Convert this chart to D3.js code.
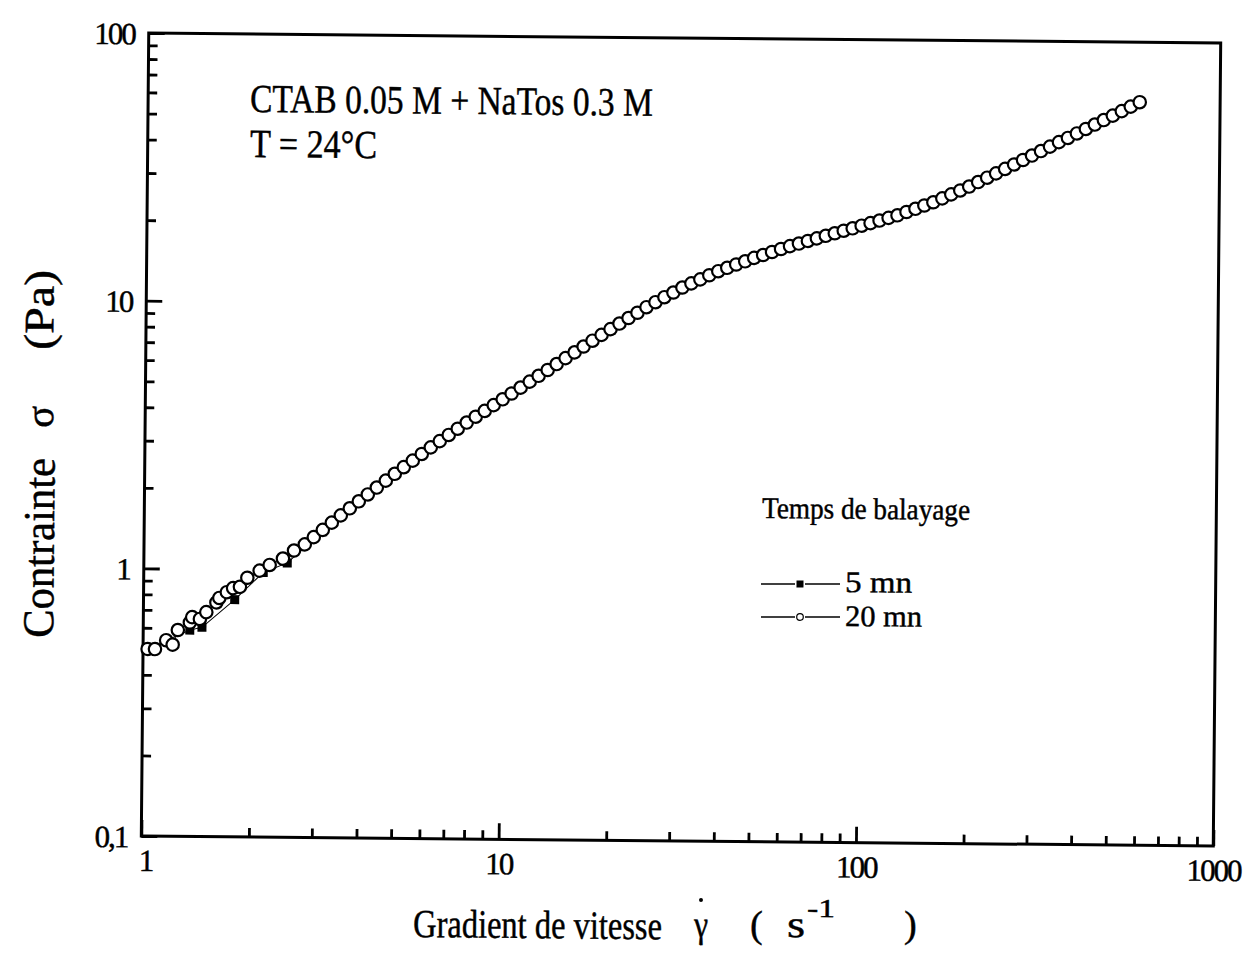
<!DOCTYPE html>
<html><head><meta charset="utf-8">
<script src="https://cdn.jsdelivr.net/npm/d3@7"></script>
<style>
html,body{margin:0;padding:0;background:#fff;}
svg{display:block;}
text{font-family:"Liberation Serif","Times New Roman",serif;fill:#000;stroke:#000;stroke-width:0.45px;}
</style></head><body>
<svg id="chart" width="1246" height="955"></svg>
<script>
// ---- data ----
const shearRate20 = [1.03,1.08,1.16,1.21,1.25,1.35,1.37,1.44,1.50,1.60,1.63,1.71,1.78,1.86,1.95,2.11,2.25,2.45,2.63,
 2.818,2.985,3.162,3.350,3.548,3.758,3.981,4.217,4.467,4.732,5.012,5.309,5.623,5.957,6.310,6.683,7.079,7.499,7.943,8.414,8.913,9.441,10.00,
 10.59,11.22,11.89,12.59,13.34,14.13,14.96,15.85,16.79,17.78,18.84,19.95,21.13,22.39,23.71,25.12,26.61,28.18,29.85,31.62,33.50,35.48,37.58,39.81,42.17,44.67,47.32,50.12,53.09,56.23,59.57,63.10,66.83,70.79,74.99,79.43,84.14,89.13,94.41,100.0,
 105.9,112.2,118.9,125.9,133.4,141.3,149.6,158.5,167.9,177.8,188.4,199.5,211.3,223.9,237.1,251.2,266.1,281.8,298.5,316.2,335.0,354.8,375.8,398.1,421.7,446.7,473.2,501.2,530.9,562.3,595.7];
const stress20 = [0.50,0.50,0.54,0.52,0.59,0.63,0.66,0.65,0.69,0.75,0.78,0.82,0.85,0.86,0.93,0.99,1.04,1.10,1.18,
 1.245,1.326,1.413,1.505,1.603,1.704,1.811,1.923,2.042,2.168,2.301,2.438,2.582,2.735,2.897,3.059,3.228,3.408,3.597,3.784,3.981,4.188,4.406,
 4.634,4.880,5.140,5.408,5.689,5.992,6.310,6.637,6.982,7.345,7.727,8.128,8.531,8.954,9.376,9.840,10.28,10.74,11.19,11.69,12.12,12.56,13.02,13.49,13.90,14.31,14.72,15.17,15.56,15.98,16.41,16.83,17.22,17.62,18.03,18.45,18.87,19.30,19.72,20.18,
 20.65,21.13,21.63,22.13,22.79,23.44,24.13,24.83,25.70,26.61,27.54,28.51,29.65,30.80,31.99,33.27,34.59,35.97,37.41,38.90,40.46,42.07,43.65,45.39,47.21,49.09,51.05,53.09,55.21,57.41,59.70];
const shearRate5 = [1.02,1.35,1.46,1.80,2.16,2.52,3.16,3.98,5.01,6.31,7.94,10.0,12.6,15.8,20.0,25.1,31.6,39.8,50.1,63.1,79.4,100,126,158,200,251,316,398,501];
const stress5 = [0.50,0.59,0.605,0.77,0.975,1.06,1.39,1.79,2.28,2.87,3.56,4.36,5.36,6.57,8.05,9.75,11.6,13.4,15.0,16.7,18.3,20.0,21.9,24.6,28.2,33.0,38.5,45.0,52.6];
const xMajorTicks = [1,10,100,1000];
const xTickLabels = ["1","10","100","1000"];
const yMajorTicks = [0.1,1,10,100];
const yTickLabels = ["0,1","1","10","100"];
const seriesNames = ["5 mn","20 mn"];
const legendTitle = "Temps de balayage";
const annotation = ["CTAB 0.05 M + NaTos 0.3 M","T = 24°C"];

// ---- layout ----
const M = {left:145, right:1217, top:38, bottom:841};
const ANG = 0.53, CX = 681, CY = 440;
const th = ANG*Math.PI/180;
function inv(xp, yp){ const dx=xp-CX, dy=yp-CY, c=Math.cos(th), s=Math.sin(th);
  return [CX + dx*c + dy*s, CY - dx*s + dy*c]; }

const svg = d3.select("#chart");
svg.append("rect").attr("width",1246).attr("height",955).attr("fill","#fff");
const g = svg.append("g").attr("transform",`rotate(${ANG},${CX},${CY})`);

const x = d3.scaleLog().domain([1,1000]).range([M.left, M.right]);
const y = d3.scaleLog().domain([0.1,100]).range([M.bottom, M.top]);

const xMinor = x.ticks().filter(v => !xMajorTicks.some(m => Math.abs(m-v)<1e-9));
const yMinor = y.ticks().filter(v => !yMajorTicks.some(m => Math.abs(m-v)<1e-9));

function styleAxis(a){ a.select(".domain").remove(); a.selectAll("line").attr("stroke","#000").attr("stroke-width",2.8); }

g.append("g").attr("transform",`translate(0,${M.bottom})`)
  .call(d3.axisBottom(x).tickValues(xMinor).tickSize(-9).tickFormat(""))
  .call(styleAxis);
const xa = g.append("g").attr("transform",`translate(0,${M.bottom})`)
  .call(d3.axisBottom(x).tickValues(xMajorTicks).tickSize(-16).tickFormat((d,i)=>xTickLabels[i]))
  .call(styleAxis);
xa.selectAll("text").attr("y",35).attr("dy",null).attr("dx",(d,i)=>i===0?4:0)
  .style("font-family",'"Liberation Serif",serif').style("font-size","31px").attr("letter-spacing","-2").attr("fill","#000");

g.append("g").attr("transform",`translate(${M.left},0)`)
  .call(d3.axisLeft(y).tickValues(yMinor).tickSize(-9).tickFormat(""))
  .call(styleAxis);
const ya = g.append("g").attr("transform",`translate(${M.left},0)`)
  .call(d3.axisLeft(y).tickValues(yMajorTicks).tickSize(-16).tickFormat((d,i)=>yTickLabels[i]))
  .call(styleAxis);
ya.selectAll("text").attr("x",-14).attr("dy","0.35em")
  .style("font-family",'"Liberation Serif",serif').style("font-size","31px").attr("letter-spacing","-2").attr("fill","#000");

// frame
g.append("rect").attr("x",M.left).attr("y",M.top).attr("width",M.right-M.left).attr("height",M.bottom-M.top)
  .attr("fill","none").attr("stroke","#000").attr("stroke-width",3);

// series
const d5 = shearRate5.map((v,i)=>[v,stress5[i]]);
const d20 = shearRate20.map((v,i)=>[v,stress20[i]]);
const line = d3.line().x(d=>x(d[0])).y(d=>y(d[1]));
g.append("path").datum(d5).attr("d",line).attr("fill","none").attr("stroke","#000").attr("stroke-width",1);
g.selectAll("rect.s5").data(d5).enter().append("rect").attr("class","s5")
  .attr("x",d=>x(d[0])-4.5).attr("y",d=>y(d[1])-4.5).attr("width",9).attr("height",9).attr("fill","#000");
g.append("path").datum(d20).attr("d",line).attr("fill","none").attr("stroke","#000").attr("stroke-width",1);
g.selectAll("circle.s20").data(d20).enter().append("circle").attr("class","s20")
  .attr("cx",d=>x(d[0])).attr("cy",d=>y(d[1])).attr("r",6.2)
  .attr("fill","#fff").attr("stroke","#000").attr("stroke-width",2.2);

// text placed at reference coordinates, condensed horizontally to a target width
function txt(xp, yp, str, size, width, rot){
  const p = inv(xp, yp);
  const outer = g.append("g").attr("transform",`translate(${p[0]},${p[1]})${rot?" rotate("+rot+")":""}`);
  const t = outer.append("text").attr("x",0).attr("y",0).style("font-size",size+"px").text(str);
  if(width){
    const w = t.node().getComputedTextLength();
    if(w>0) t.attr("transform",`scale(${width/w},1)`);
  }
  return t;
}

// annotation
txt(250,112,annotation[0],40,403);
txt(250,157,annotation[1],40,127);

// legend
txt(762,518,legendTitle,30,208);
[[584,0],[617,1]].forEach(([ly,i])=>{
  [[761,795],[805,840]].forEach(([a0,b0])=>{
    const a = inv(a0,ly), b = inv(b0,ly);
    g.append("line").attr("x1",a[0]).attr("y1",a[1]).attr("x2",b[0]).attr("y2",b[1]).attr("stroke","#000").attr("stroke-width",1.4);
  });
  const c = inv(800,ly);
  if(i===0){
    g.append("rect").attr("x",c[0]-3.5).attr("y",c[1]-3.5).attr("width",7).attr("height",7).attr("fill","#000");
  } else {
    g.append("circle").attr("cx",c[0]).attr("cy",c[1]).attr("r",3.3).attr("fill","#fff").attr("stroke","#000").attr("stroke-width",1.2);
  }
});
txt(845,592,seriesNames[0],30,67);
txt(845,626,seriesNames[1],30,77);

// x axis label
txt(413,937,"Gradient de vitesse",40,249);
txt(694,937,"γ",38,14);
const dotP = inv(701,900);
g.append("circle").attr("cx",dotP[0]).attr("cy",dotP[1]).attr("r",2).attr("fill","#000");
txt(750,937,"(",38);
txt(787,937,"s",38,18);
txt(807,917,"-1",26,28);
txt(904,937,")",38);

// y axis label (rotated)
txt(53,638,"Contrainte",44,180,-90);
txt(53,428,"σ",40,22,-90);
txt(53,350,"(Pa)",42,80,-90);
</script>
</body></html>
